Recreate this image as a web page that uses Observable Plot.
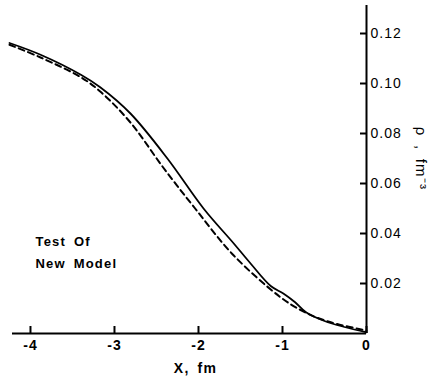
<!DOCTYPE html>
<html>
<head>
<meta charset="utf-8">
<script src="https://cdn.jsdelivr.net/npm/d3@7"></script>
<script src="https://cdn.jsdelivr.net/npm/@observablehq/plot@0.6"></script>
<style>
  html, body { margin: 0; padding: 0; background: #fff; }
  svg { font-family: "Liberation Sans", Arial, sans-serif; }
  g[aria-label="text"] text { letter-spacing: 1.2px; word-spacing: 3px; }
  g[aria-label="x-axis tick label"] text, g[aria-label="y-axis tick label"] text { letter-spacing: 1px; }
</style>
</head>
<body>
<div id="chart"></div>
<script>
// Solid curve
const solidX = [-4.25, -3.88, -3.40, -3.17, -2.81, -2.37, -1.94, -1.58, -1.38, -1.14, -0.99, -0.85, -0.72, -0.50, -0.25, 0];
const solidY = [0.1162, 0.1115, 0.1035, 0.0985, 0.0880, 0.0700, 0.0500, 0.0360, 0.0280, 0.0190, 0.0160, 0.0125, 0.0085, 0.0050, 0.0025, 0.0005];
// Dashed curve
const dashX = [-4.25, -3.88, -3.40, -3.17, -2.81, -2.42, -2.04, -1.58, -1.02, -0.79, -0.58, -0.35, 0];
const dashY = [0.1155, 0.1104, 0.1025, 0.0968, 0.0844, 0.0664, 0.0500, 0.0312, 0.0144, 0.0095, 0.0062, 0.0038, 0.0012];
// Ticks
const xTicks = [-4, -3, -2, -1, 0];
const yTicks = [0.02, 0.04, 0.06, 0.08, 0.10, 0.12];
const xLabel = "X, fm";
const yLabel = "\u03C1 , fm\u207B\u00B3";
const noteLines = ["Test Of", "New Model"];
const noteY = [0.0368, 0.0280];

const solid = solidX.map((x, i) => ({x, y: solidY[i]}));
const dashed = dashX.map((x, i) => ({x, y: dashY[i]}));
const notes = noteLines.map((t, i) => ({t, x: -3.94, y: noteY[i]}));

const chart = Plot.plot({
  width: 437,
  height: 381,
  marginLeft: 12,
  marginRight: 71,
  marginTop: 5,
  marginBottom: 48,
  style: {fontFamily: "Liberation Sans, Arial, sans-serif", color: "#000", background: "#fff"},
  x: {domain: [-4.214, 0]},
  y: {domain: [0, 0.1312]},
  marks: [
    Plot.ruleY([0], {stroke: "#000", strokeWidth: 2}),
    Plot.ruleX([0], {stroke: "#000", strokeWidth: 2}),
    Plot.ruleX(xTicks, {y1: 0, y2: 0.0028, stroke: "#000", strokeWidth: 2}),
    Plot.ruleY(yTicks, {x1: -0.0714, x2: 0, stroke: "#000", strokeWidth: 2}),
    Plot.axisX({ticks: xTicks, tickSize: 0, tickPadding: 7, fontSize: 14, fontWeight: "bold", label: null,
      tickFormat: d => d === 0 ? "0" : "-" + Math.abs(d)}),
    Plot.axisY({anchor: "right", ticks: yTicks, tickSize: 0, tickPadding: 4, fontSize: 14, label: null,
      tickFormat: d3.format(".2f")}),
    Plot.line(dashed, {x: "x", y: "y", curve: "catmull-rom", stroke: "#000", strokeWidth: 2, strokeDasharray: "6,4"}),
    Plot.line(solid, {x: "x", y: "y", curve: "catmull-rom", stroke: "#000", strokeWidth: 1.8}),
    Plot.text(notes, {x: "x", y: "y", text: "t", textAnchor: "start", fontSize: 13, fontWeight: "bold", fill: "#000"}),
    Plot.text([xLabel], {x: -2.036, frameAnchor: "bottom", dy: 39, fontSize: 14, fontWeight: "bold", fill: "#000"}),
    Plot.text([yLabel], {x: 0.643, y: 0.07, rotate: 90, fontSize: 15, fill: "#000"})
  ]
});
document.getElementById("chart").appendChild(chart);
</script>
</body>
</html>
